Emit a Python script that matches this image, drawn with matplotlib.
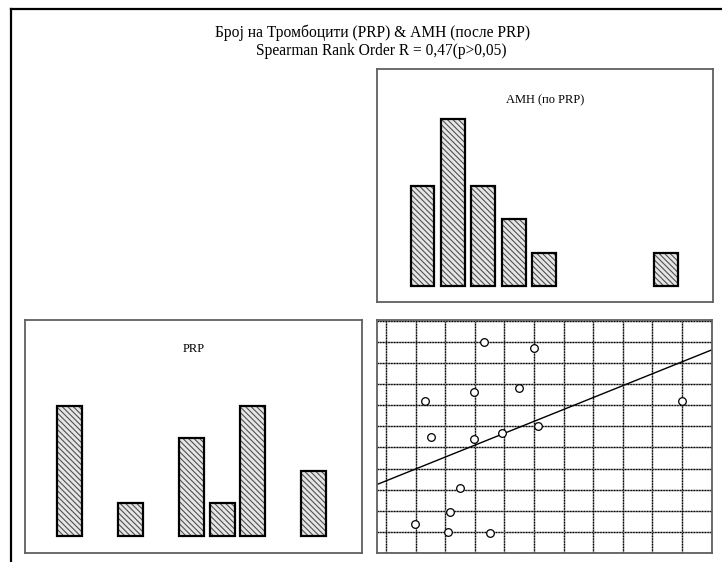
import numpy as np
import matplotlib
matplotlib.use("Agg")
import matplotlib.pyplot as plt
from matplotlib.lines import Line2D

# scatter data (grid units)
prp = [3.31, 4.99, 4.48, 2.97, 1.33, 10.0, 5.14, 3.92, 1.51, 2.97, 2.49, 2.16, 0.97, 2.08, 3.51]
amh = [10.01, 9.70, 7.81, 7.62, 7.20, 7.20, 6.01, 5.69, 5.50, 5.40, 3.10, 1.93, 1.37, 0.99, 0.97]

# histogram counts
top_counts = [3, 5, 3, 2, 1, 0, 0, 0, 1]
left_counts = [4, 0, 1, 0, 3, 1, 4, 0, 2]

title1 = "Број на Тромбоцити (PRP) & АМН (после PRP)"
title2 = "Spearman Rank Order R = 0,47(p>0,05)"

W, H = 722, 562
plt.rcParams['font.family'] = ['Liberation Serif', 'DejaVu Serif']
plt.rcParams['hatch.linewidth'] = 0.8

fig = plt.figure(figsize=(W / 100, H / 100), dpi=100)


def px_axes(x0, y0, x1, y1):
    return fig.add_axes([x0 / W, 1 - y1 / H, (x1 - x0) / W, (y1 - y0) / H])


def frame(ax, color='#606060', lw=1.3):
    for s in ax.spines.values():
        s.set_color(color)
        s.set_linewidth(lw)
    ax.set_xticks([])
    ax.set_yticks([])


def hist_panel(ax, counts, width, title, ty):
    idx = np.arange(len(counts))
    c = np.array(counts)
    keep = c > 0
    ax.bar(idx[keep], c[keep], width=width, color='#e6e6e6', hatch='\\\\\\\\\\\\',
           edgecolor='#505050', linewidth=0)
    ax.bar(idx[keep], c[keep], width=width, fill=False, edgecolor='black', linewidth=1.6)
    ax.text(0.5, ty, title, transform=ax.transAxes, ha='center', va='center',
            fontsize=9)
    frame(ax)


# outer frame
fig.add_artist(Line2D([11 / W, 11 / W], [0, 1 - 9 / H], color='black', lw=1.6,
                      transform=fig.transFigure))
fig.add_artist(Line2D([11 / W, 1], [1 - 9 / H, 1 - 9 / H], color='black', lw=1.6,
                      transform=fig.transFigure))

fig.text(373 / W, 1 - 33 / H, title1, ha='center', va='center', fontsize=11.2)
fig.text(381 / W, 1 - 51 / H, title2, ha='center', va='center', fontsize=11.2)

# top histogram
ax_top = px_axes(377, 69, 713, 302)
hist_panel(ax_top, top_counts, 0.78, "АМН (по PRP)", 1 - 31 / 233)
ax_top.set_xlim(-1.497, 9.556)
ax_top.set_ylim(-0.479, 6.497)

# left histogram
ax_left = px_axes(25, 320, 362, 553)
hist_panel(ax_left, left_counts, 0.82, "PRP", 1 - 29 / 233)
ax_left.set_xlim(-1.469, 9.58)
ax_left.set_ylim(-0.534, 6.657)

# scatter
ax = px_axes(377, 320, 712, 553)
ax.set_xlim(-0.304, 11.01)
ax.set_ylim(0, 11.04)
for g in range(0, 12):
    ax.axvline(g, color='#777777', lw=1.0, zorder=1)
    ax.axvline(g, color='black', lw=0.9, ls=(0, (1, 1.2)), zorder=1)
    ax.axhline(g, color='#777777', lw=1.0, zorder=1)
    ax.axhline(g, color='black', lw=0.9, ls=(0, (1, 1.2)), zorder=1)
k, b = np.polyfit(prp, amh, 1)
xs = np.array(ax.get_xlim())
ax.plot(xs, k * xs + b, color='black', lw=1.0, zorder=2)
ax.plot(prp, amh, 'o', ms=5.5, mfc='white', mec='black', mew=0.9, zorder=3)
frame(ax)

fig.savefig("out.png", dpi=100)
